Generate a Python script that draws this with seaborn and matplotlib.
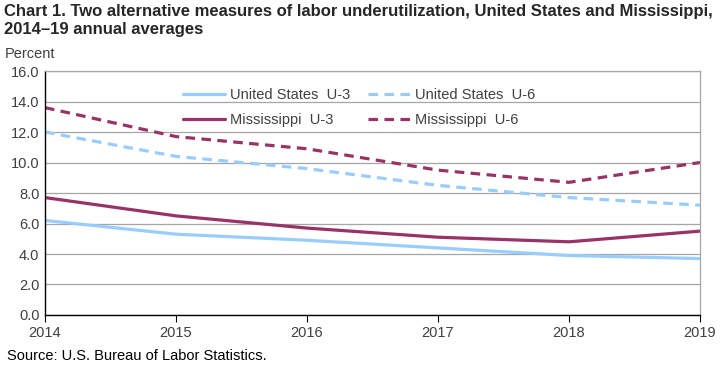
import matplotlib
matplotlib.use('Agg')
import matplotlib.pyplot as plt
import seaborn as sns
import pandas as pd

years = [2014, 2015, 2016, 2017, 2018, 2019]
us_u3 = [6.2, 5.3, 4.9, 4.4, 3.9, 3.7]
us_u6 = [12.0, 10.4, 9.6, 8.5, 7.7, 7.2]
ms_u3 = [7.7, 6.5, 5.7, 5.1, 4.8, 5.5]
ms_u6 = [13.6, 11.7, 10.9, 9.5, 8.7, 10.0]
series_names = ['United States  U-3', 'United States  U-6', 'Mississippi  U-3', 'Mississippi  U-6']

df = pd.DataFrame({'year': years * 4,
                   'value': us_u3 + us_u6 + ms_u3 + ms_u6,
                   'series': sum([[s] * len(years) for s in series_names], [])})

sns.set_style('white')
plt.rcParams['font.family'] = ['Liberation Sans', 'DejaVu Sans']

blue = '#99CCFF'
maroon = '#993366'
palette = {series_names[0]: blue, series_names[1]: blue,
           series_names[2]: maroon, series_names[3]: maroon}
dashes = {series_names[0]: '', series_names[1]: (3, 2),
          series_names[2]: '', series_names[3]: (3, 2)}

fig = plt.figure(figsize=(7.22, 3.67), dpi=100)
ax = fig.add_axes([0.0623, 0.1417, 0.9072, 0.6648])

sns.lineplot(data=df, x='year', y='value', hue='series', style='series',
             palette=palette, dashes=dashes, linewidth=2.3, ax=ax, legend=False)

ax.set_xlim(2014, 2019)
ax.set_ylim(0, 16)
ax.set_yticks(range(0, 17, 2))
ax.set_yticklabels([f'{v:.1f}' for v in range(0, 17, 2)])
ax.set_xticks(years)
ax.grid(axis='y', color='#a6a6a6', linewidth=0.9)
ax.set_axisbelow(True)
ax.set_xlabel('')
ax.set_ylabel('')
for s in ['top', 'right']:
    ax.spines[s].set_color('#a6a6a6')
    ax.spines[s].set_linewidth(0.9)
for s in ['left', 'bottom']:
    ax.spines[s].set_color('black')
    ax.spines[s].set_linewidth(1.0)
ax.tick_params(axis='both', labelsize=10.5, labelcolor='#404040', length=0, pad=4)
ax.tick_params(axis='x', length=5, color='black', direction='out', bottom=True, pad=3)

handles = [plt.Line2D([], [], color=palette[n], linewidth=2.3,
                      linestyle='-' if dashes[n] == '' else (0, dashes[n])) for n in series_names]
order = [0, 2, 1, 3]
ax.legend([handles[i] for i in order], [series_names[i] for i in order], ncol=2,
          loc='upper left', bbox_to_anchor=(0.19, 0.985), frameon=False,
          fontsize=10.5, labelcolor='#404040', handlelength=2.9,
          columnspacing=1.2, handletextpad=0.35, labelspacing=0.75)

fig.text(0.006, 0.99, 'Chart 1. Two alternative measures of labor underutilization, United States and Mississippi,\n2014\u201319 annual averages',
         fontsize=12, fontweight='bold', va='top', ha='left', linespacing=1.25)
fig.text(0.007, 0.835, 'Percent', fontsize=10.5, color='#404040', va='bottom')
fig.text(0.01, 0.012, 'Source: U.S. Bureau of Labor Statistics.', fontsize=10.5, color='black', va='bottom')

fig.savefig('out.png', dpi=100)
